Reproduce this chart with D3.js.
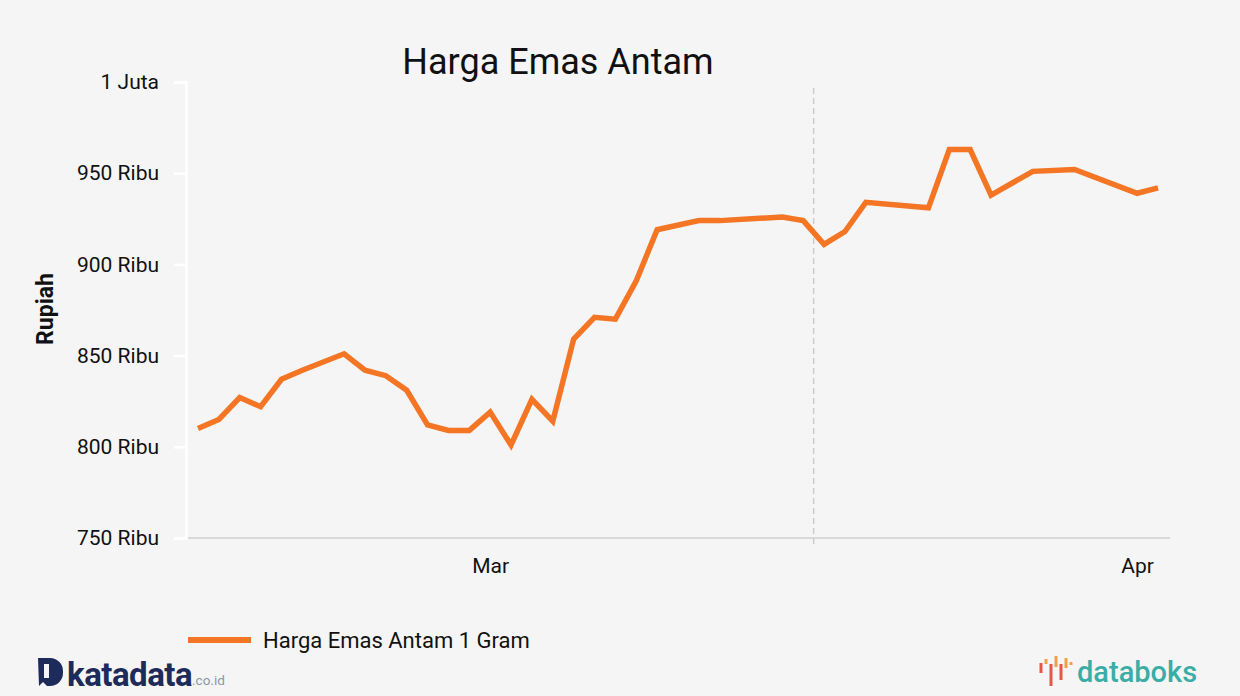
<!DOCTYPE html>
<html><head><meta charset="utf-8">
<script src="https://cdn.jsdelivr.net/npm/d3@7"></script>
<style>
html,body{margin:0;padding:0;background:#f5f5f5;}
svg{display:block;font-family:Roboto,"Noto Sans",sans-serif;}
</style></head>
<body>
<svg id="c" width="1240" height="696"></svg>
<script>
const dates = ["2020-02-16","2020-02-17","2020-02-18","2020-02-19","2020-02-20","2020-02-21","2020-02-23","2020-02-24","2020-02-25","2020-02-26","2020-02-27","2020-02-28","2020-02-29","2020-03-01","2020-03-02","2020-03-03","2020-03-04","2020-03-05","2020-03-06","2020-03-07","2020-03-08","2020-03-09","2020-03-11","2020-03-12","2020-03-15","2020-03-16","2020-03-17","2020-03-18","2020-03-19","2020-03-22","2020-03-23","2020-03-24","2020-03-25","2020-03-27","2020-03-29","2020-04-01","2020-04-02"];
const prices = [810,815,827,822,837,842,851,842,839,831,812,809,809,819,801,826,814,859,871,870,891,919,924,924,926,924,911,918,934,931,963,963,938,951,952,939,942];
const yTicks = [750000,800000,850000,900000,950000,1000000];
const xTicks = ["2020-03-01","2020-04-01"];
const xTickLabels = ["Mar","Apr"];
const markerDate = "2020-03-16T12:00:00";
const seriesName = "Harga Emas Antam 1 Gram";
const title = "Harga Emas Antam";
const yTitle = "Rupiah";

const parse = d3.isoParse;
const data = dates.map((d,i)=>({d:parse(d+"T00:00:00"), v:prices[i]*1000}));
const svg = d3.select("#c");
const orange = "#f47524";

const x = d3.scaleTime().domain(d3.extent(data,d=>d.d)).range([198,1158]);
const y = d3.scaleLinear().domain([750000,1000000]).range([538,82]);

// title
svg.append("text").attr("x",558).attr("y",74).attr("text-anchor","middle")
  .attr("font-size",36).attr("fill","#111").text(title);

// x baseline
svg.append("line").attr("x1",188).attr("x2",1170).attr("y1",y(750000)).attr("y2",y(750000))
  .attr("stroke","#d9d9d9").attr("stroke-width",2);

// marker dashed line
svg.append("line").attr("x1",x(parse(markerDate))).attr("x2",x(parse(markerDate)))
  .attr("y1",88).attr("y2",548).attr("stroke","#cccccc").attr("stroke-width",1.5)
  .attr("stroke-dasharray","6,4");

// y axis
const fmt = v => v>=1000000 ? (v/1000000)+" Juta" : (v/1000)+" Ribu";
const yAxis = svg.append("g").attr("transform","translate(186,0)")
  .call(d3.axisLeft(y).tickValues(yTicks).tickFormat(fmt).tickSize(12).tickPadding(15));
yAxis.select(".domain").attr("stroke","#ffffff").attr("stroke-width",2.5);
yAxis.selectAll(".tick line").attr("stroke","#ffffff").attr("stroke-width",2.5);
yAxis.selectAll(".tick text").attr("font-size",21).attr("fill","#111")
  .attr("font-family","Roboto,sans-serif");

// x axis labels
const xAxis = svg.append("g").attr("transform",`translate(0,${y(750000)})`)
  .call(d3.axisBottom(x).tickValues(xTicks.map(t=>parse(t+"T00:00:00"))).tickFormat((d,i)=>xTickLabels[i]).tickSize(0).tickPadding(20));
xAxis.select(".domain").remove();
xAxis.selectAll(".tick text").attr("font-size",21).attr("fill","#111").attr("font-family","Roboto,sans-serif");

// y title
svg.append("text").attr("transform","translate(53,309) rotate(-90)").attr("text-anchor","middle")
  .attr("font-size",23).attr("font-weight","bold").attr("fill","#111").text(yTitle);

// line
svg.append("path").datum(data)
  .attr("d", d3.line().x(d=>x(d.d)).y(d=>y(d.v)))
  .attr("fill","none").attr("stroke",orange).attr("stroke-width",5.5)
  .attr("stroke-linejoin","miter").attr("stroke-linecap","butt");

// legend
svg.append("line").attr("x1",188).attr("x2",251).attr("y1",640).attr("y2",640)
  .attr("stroke",orange).attr("stroke-width",6);
svg.append("text").attr("x",263).attr("y",648).attr("font-size",22).attr("fill","#111").text(seriesName);

// katadata logo
const kd = svg.append("g");
kd.append("path").attr("d","M38,658 h12 a13,13 0 0 1 13,13 v2 a13,13 0 0 1 -13,13 h-3 l-4,-4 l-4,4 z").attr("fill","#1c2b5a");
kd.append("rect").attr("x",44).attr("y",664).attr("width",5).attr("height",14).attr("fill","#f5f5f5");
kd.append("text").attr("x",67).attr("y",686).attr("font-size",33).attr("font-weight","bold")
  .attr("fill","#1c2b5a").attr("letter-spacing","-0.5").text("katadata");
kd.append("text").attr("x",192).attr("y",685).attr("font-size",13.5).attr("fill","#8a98a8").text(".co.id");

// databoks logo
const db = svg.append("g");
const bars = [[1041,663,1041,673,"#e6554a"],[1046,659,1046,664,"#f0a046"],[1051,664,1051,686,"#e6554a"],[1056,656,1056,667,"#f0a046"],[1061,664,1061,680,"#e6554a"],[1066,658,1066,668,"#f0a046"],[1071,662,1071,665,"#f0a046"]];
bars.forEach(b=>db.append("line").attr("x1",b[0]).attr("x2",b[2]).attr("y1",b[1]).attr("y2",b[3]).attr("stroke",b[4]).attr("stroke-width",3));
db.append("text").attr("x",1077).attr("y",682).attr("font-size",29).attr("font-weight","500")
  .attr("fill","#3aaea6").text("databoks");
</script>
</body></html>
